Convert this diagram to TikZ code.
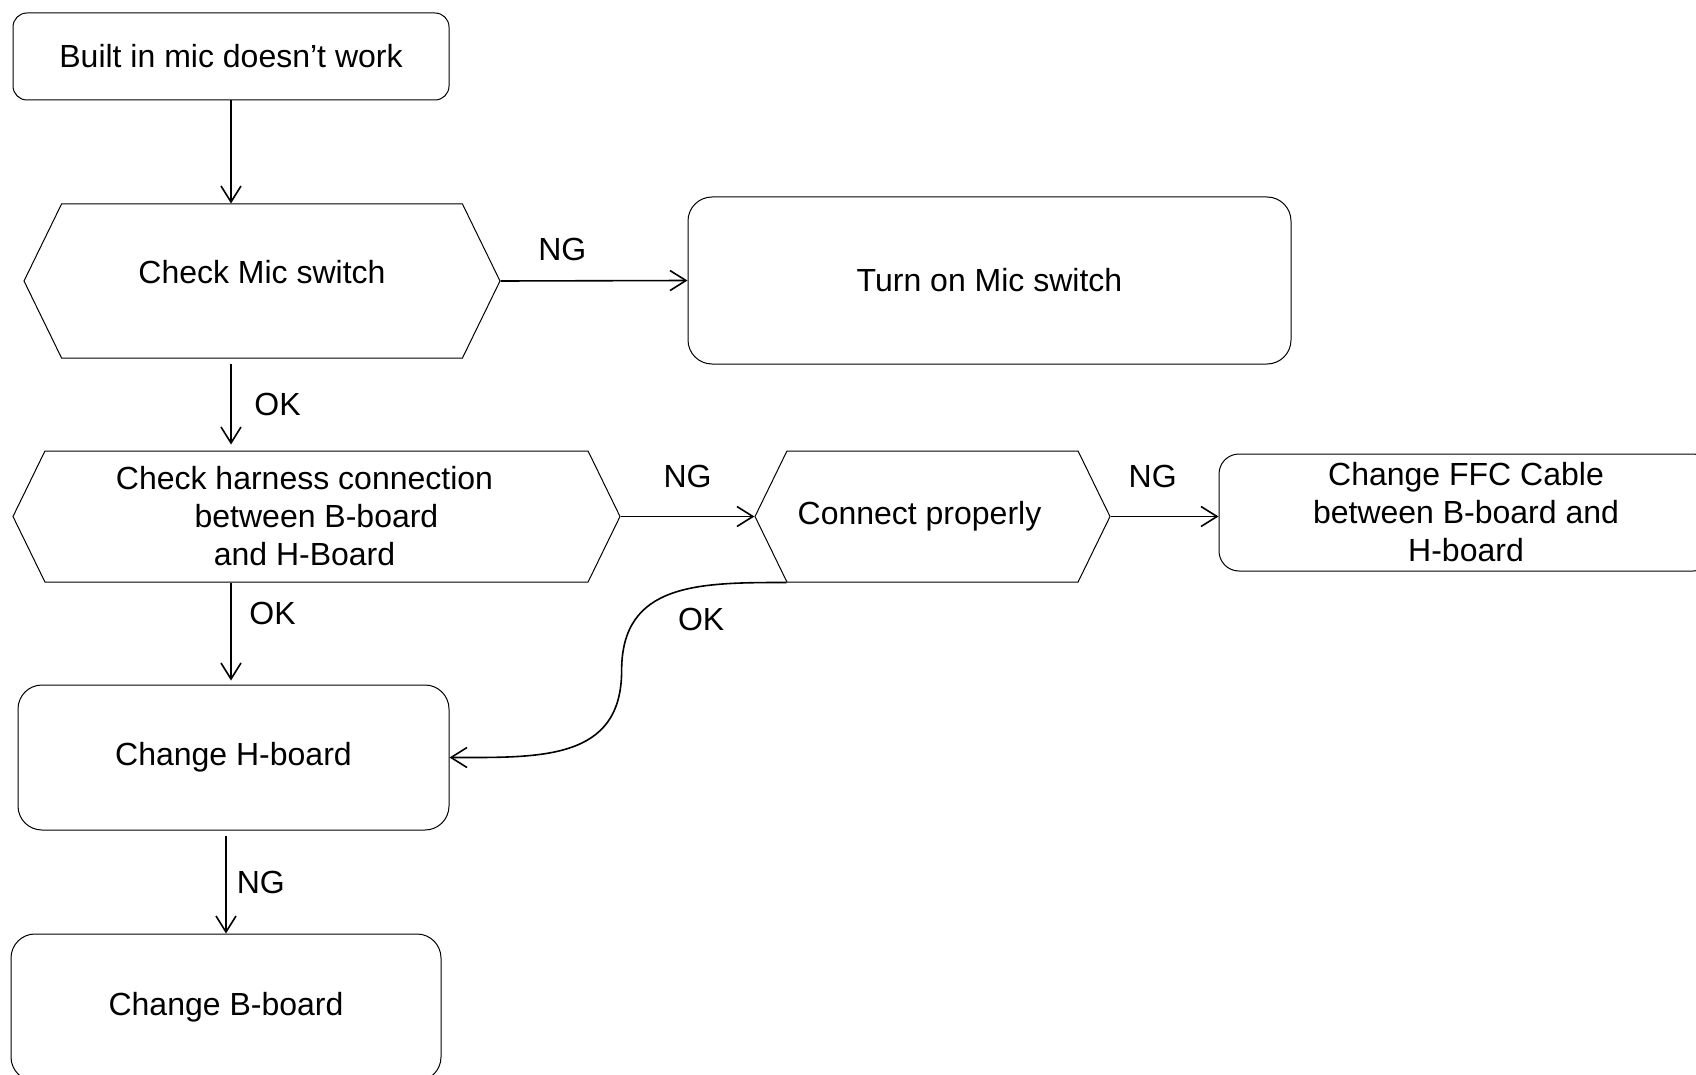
\documentclass[tikz,border=0pt]{standalone}
\usepackage{fontspec}
\setmainfont{Liberation Sans}
\usetikzlibrary{arrows.meta,shapes.symbols}

\begin{document}
\begin{tikzpicture}[x=0.5pt, y=-0.5pt,
  every node/.style={font=\fontsize{16}{19}\selectfont, align=center},
  roundbox/.style={draw, line width=0.5pt, rounded corners=12pt, inner sep=0pt},
  checkbox/.style={draw, line width=0.5pt, signal, signal to=west and east,
    signal pointer angle=128, inner sep=0pt},
  flow/.style={-{Straight Barb[length=8pt,width=10pt]}, line width=0.8pt}]
  \useasboundingbox (0,0) rectangle (1696,1075);

  % boxes
  \node[roundbox, rounded corners=7pt, minimum width=218pt, minimum height=43.5pt]
    (start) at (231,56.5) {Built in mic doesn’t work};
  \node[checkbox, minimum width=238pt, minimum height=77pt, text depth=8.6pt]
    (chkmic) at (262,281) {Check Mic switch};
  \node[roundbox, minimum width=301.5pt, minimum height=83.5pt]
    (turnon) at (989.5,280.5) {Turn on Mic switch};
  \node[checkbox, minimum width=303.5pt, minimum height=65.5pt]
    (chkharn) at (316.5,516.5) {Check harness connection\hspace*{12pt}\\between B-board\hspace*{12pt}\\and H-Board\hspace*{12pt}};
  \node[checkbox, minimum width=177.5pt, minimum height=65.5pt]
    (connect) at (932.5,516.5) {Connect properly\hspace*{13pt}};
  \node[roundbox, rounded corners=10pt, minimum width=247pt, minimum height=58.5pt]
    (ffc) at (1466,512.5) {Change FFC Cable\\between B-board and\\H-board};
  \node[roundbox, minimum width=215.5pt, minimum height=72.5pt]
    (hboard) at (233.5,757.5) {Change H-board};
  \node[roundbox, minimum width=215pt, minimum height=73.5pt]
    (bboard) at (226,1007.5) {Change B-board};

  % arrows
  \draw[flow] (start.south) -- (start.south |- chkmic.north);
  \draw[flow] (chkmic.east) -- (turnon.west)
    node[pos=0.33, above=6.5pt] {NG};
  \draw[flow, shorten <=2.5pt, shorten >=3pt] (start.south |- chkmic.south) -- (start.south |- chkharn.north)
    node[midway, right=8pt] {OK};
  \draw[flow] (chkharn.east) -- (connect.west)
    node[midway, above=10.5pt] {NG};
  \draw[flow] (connect.east) -- (connect.east -| ffc.west)
    node[pos=0.39, above=10.5pt] {NG};
  \draw[flow, shorten >=2pt] (start.south |- chkharn.south) -- (start.south |- hboard.north)
    node[pos=0.3, right=5.5pt] {OK};
  \draw[flow] (connect.south west)
    to[out=180, in=90, looseness=1.2] node[pos=0.5, xshift=15pt, yshift=-13pt] {OK} ++(-165,88)
    to[out=-90, in=0, looseness=1.2] (hboard.east);
  \draw[flow, shorten <=2.5pt] (bboard.north |- hboard.south) -- (bboard.north)
    node[midway, right=1.7pt] {NG};
\end{tikzpicture}
\end{document}
